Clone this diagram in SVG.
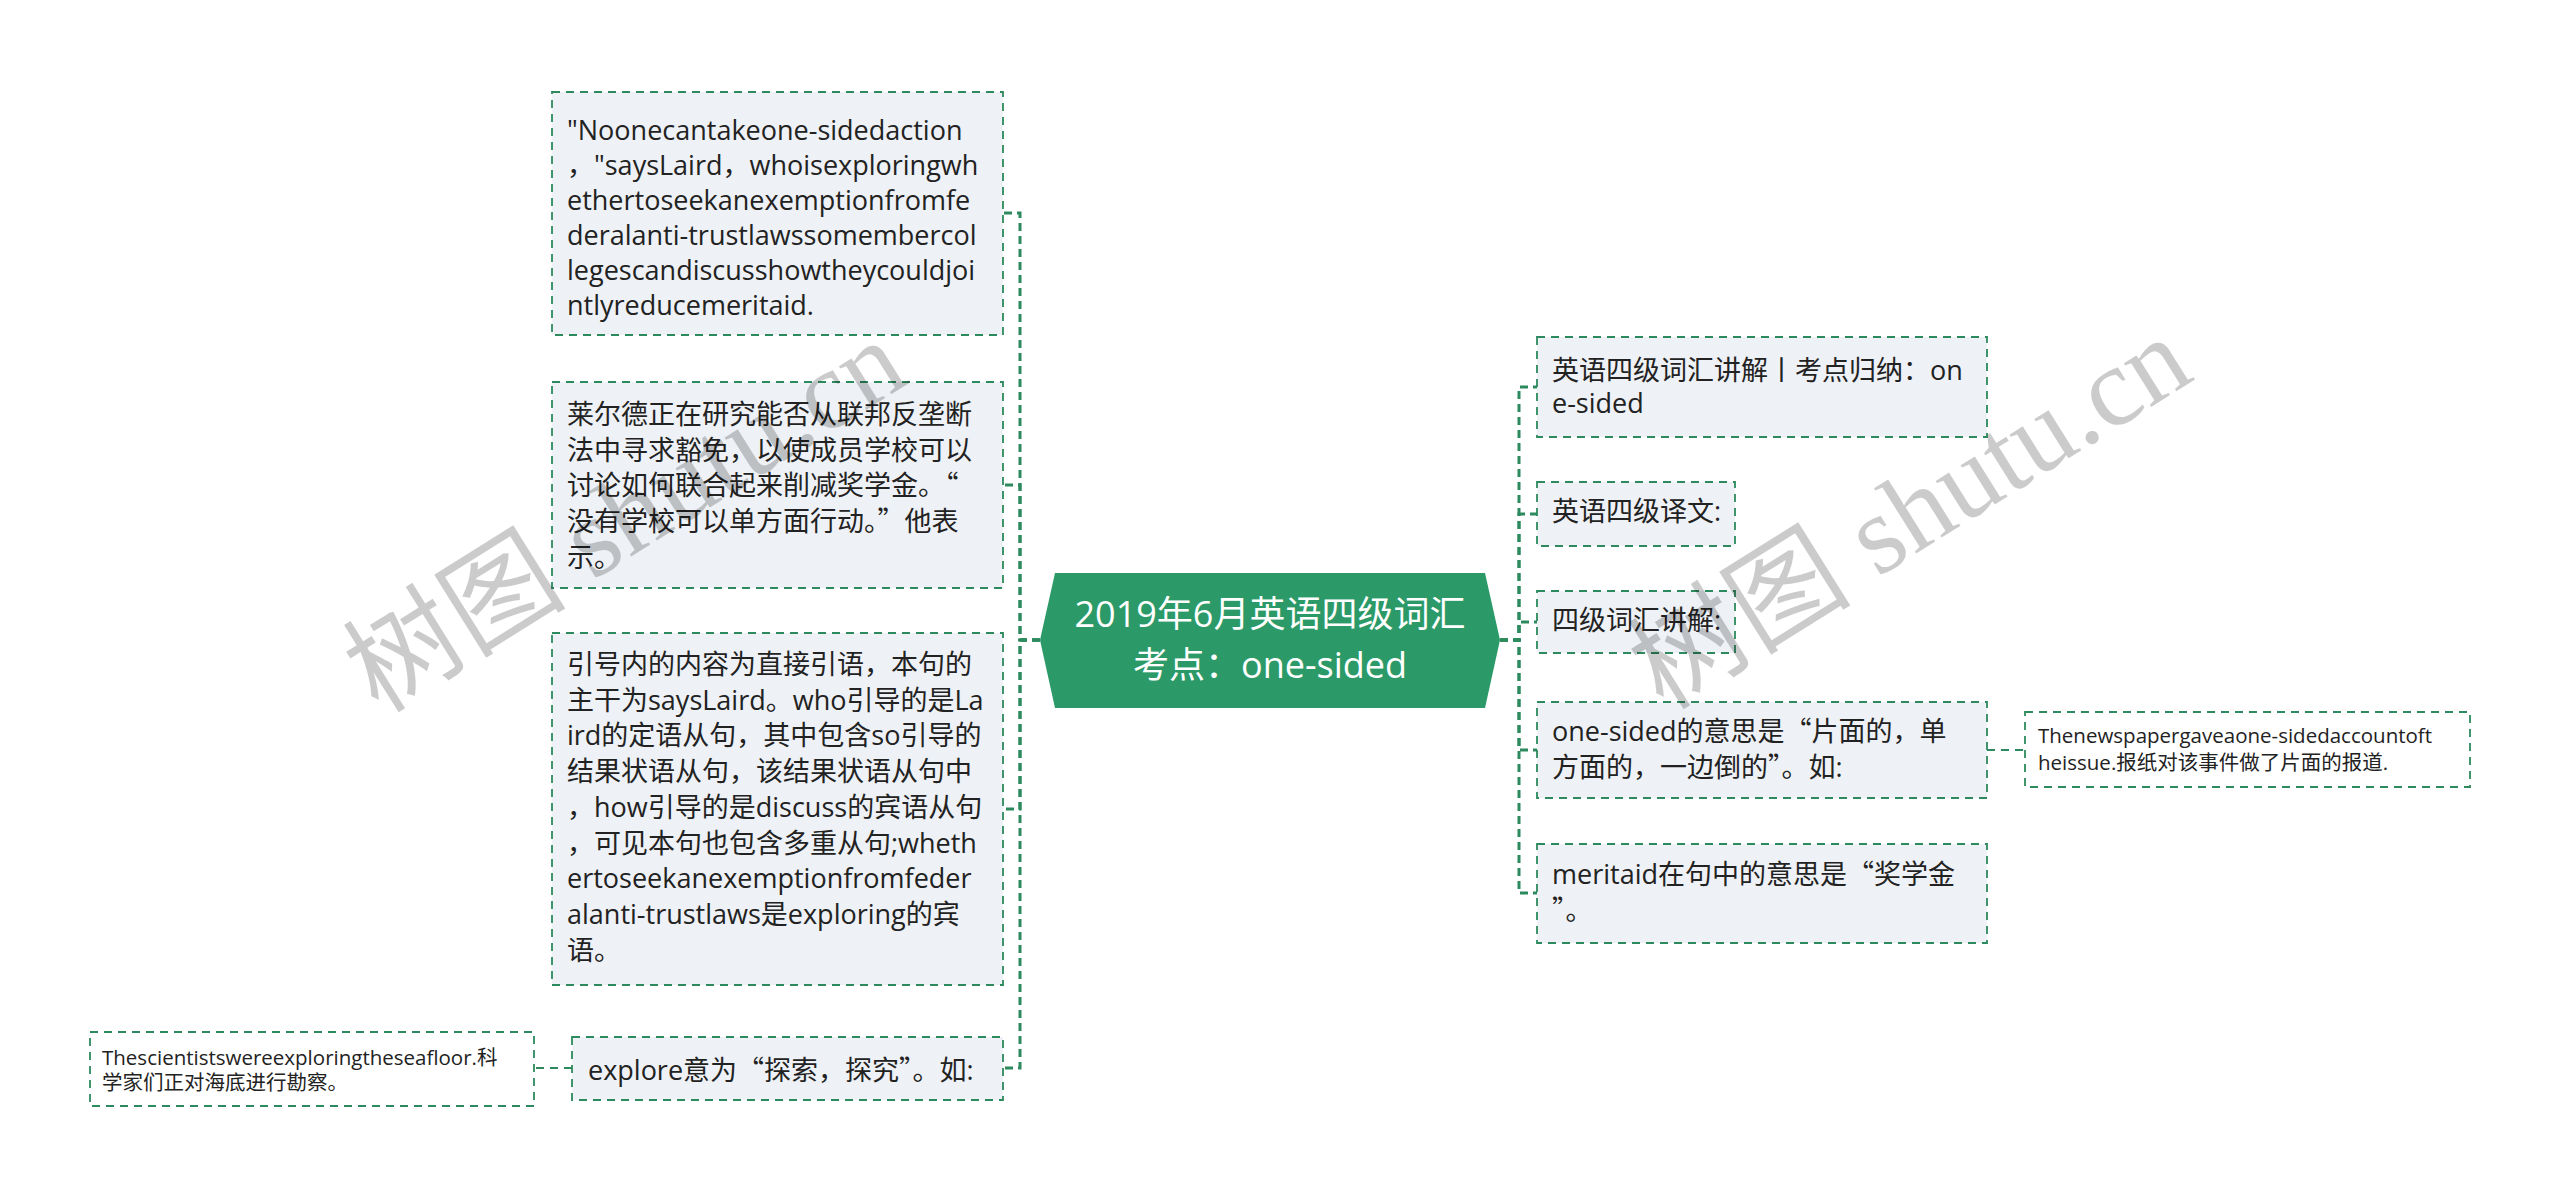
<svg xmlns="http://www.w3.org/2000/svg" width="2560" height="1197" viewBox="0 0 2560 1197">
<style>
.bg{fill:#ffffff}
.box{fill:#eef1f5;stroke:#2d8a5e;stroke-width:1.8;stroke-dasharray:8 6}
.leaf{fill:#ffffff;stroke:#2d8a5e;stroke-width:1.8;stroke-dasharray:8 6}
.t{font-family:"Open Sans","Noto Sans CJK SC",sans-serif;font-size:27px;fill:#222}
.s{font-family:"Open Sans","Noto Sans CJK SC",sans-serif;font-size:20.5px;fill:#222}
.c{font-family:"Open Sans","Noto Sans CJK SC",sans-serif;font-size:36px;fill:#ffffff;text-anchor:middle}
.q{font-family:"Noto Sans CJK SC",sans-serif}
.trunk{fill:none;stroke:#2d8a5e;stroke-width:3;stroke-dasharray:8 5}
.thin{fill:none;stroke:#2d8a5e;stroke-width:2;stroke-dasharray:8 6}
.wm{font-family:"Liberation Serif","Noto Sans CJK SC",serif;font-size:112px;fill:#000;opacity:0.2;text-anchor:middle}
</style>
<rect class="bg" x="0" y="0" width="2560" height="1197"/>
<g id="connectors">
<path class="trunk" d="M1040,640 H1020 V213 H1003"/>
<path class="trunk" d="M1040,640 H1020 V485 H1003"/>
<path class="trunk" d="M1040,640 H1020 V809 H1003"/>
<path class="trunk" d="M1040,640 H1020 V1068 H1003"/>
<path class="thin" d="M572,1068 H534"/>
<path class="trunk" d="M1500,640 H1519 V387 H1537"/>
<path class="trunk" d="M1500,640 H1519 V514 H1537"/>
<path class="trunk" d="M1500,640 H1519 V622 H1537"/>
<path class="trunk" d="M1500,640 H1519 V750 H1537"/>
<path class="trunk" d="M1500,640 H1519 V893 H1537"/>
<path class="thin" d="M1987,750 H2025"/>
</g>
<g id="center">
<polygon points="1040,640 1055,573 1485,573 1500,640 1485,708 1055,708" fill="#2b9a68"/>
<text class="c" x="1270" y="627">2019年6月英语四级词汇</text>
<text class="c" x="1270" y="678">考点：one-sided</text>
</g>
<g id="n1">
<rect class="box" x="552" y="92" width="451" height="243"/>
<text class="t"><tspan x="567" y="140">"Noonecantakeone-sidedaction</tspan><tspan x="567" y="175">，"saysLaird，whoisexploringwh</tspan><tspan x="567" y="210">ethertoseekanexemptionfromfe</tspan><tspan x="567" y="245">deralanti-trustlawssomembercol</tspan><tspan x="567" y="280">legescandiscusshowtheycouldjoi</tspan><tspan x="567" y="315">ntlyreducemeritaid.</tspan></text>
</g>
<g id="n2">
<rect class="box" x="552" y="382" width="451" height="206"/>
<text class="t"><tspan x="567" y="424">莱尔德正在研究能否从联邦反垄断</tspan><tspan x="567" y="460">法中寻求豁免，以使成员学校可以</tspan><tspan x="567" y="495">讨论如何联合起来削减奖学金。<tspan class="q">“</tspan></tspan><tspan x="567" y="531">没有学校可以单方面行动。<tspan class="q">”</tspan>他表</tspan><tspan x="567" y="567">示。</tspan></text>
</g>
<g id="n3">
<rect class="box" x="552" y="633" width="451" height="352"/>
<text class="t"><tspan x="567" y="674">引号内的内容为直接引语，本句的</tspan><tspan x="567" y="710">主干为saysLaird。who引导的是La</tspan><tspan x="567" y="745">ird的定语从句，其中包含so引导的</tspan><tspan x="567" y="781">结果状语从句，该结果状语从句中</tspan><tspan x="567" y="817">，how引导的是discuss的宾语从句</tspan><tspan x="567" y="853">，可见本句也包含多重从句;wheth</tspan><tspan x="567" y="888">ertoseekanexemptionfromfeder</tspan><tspan x="567" y="924">alanti-trustlaws是exploring的宾</tspan><tspan x="567" y="960">语。</tspan></text>
</g>
<g id="n4">
<rect class="box" x="572" y="1037" width="431" height="63"/>
<text class="t" x="588" y="1080">explore意为<tspan class="q">“</tspan>探索，探究<tspan class="q">”</tspan>。如:</text>
</g>
<g id="n5">
<rect class="leaf" x="90" y="1032" width="444" height="74"/>
<text class="s"><tspan x="102" y="1065">Thescientistswereexploringtheseafloor.科</tspan><tspan x="102" y="1090">学家们正对海底进行勘察。</tspan></text>
</g>
<g id="r1">
<rect class="box" x="1537" y="337" width="450" height="100"/>
<text class="t"><tspan x="1552" y="380">英语四级词汇讲解丨考点归纳：on</tspan><tspan x="1552" y="413">e-sided</tspan></text>
</g>
<g id="r2">
<rect class="box" x="1537" y="482" width="198" height="64"/>
<text class="t" x="1552" y="521">英语四级译文:</text>
</g>
<g id="r3">
<rect class="box" x="1537" y="591" width="198" height="62"/>
<text class="t" x="1552" y="630">四级词汇讲解:</text>
</g>
<g id="r4">
<rect class="box" x="1537" y="702" width="450" height="96"/>
<text class="t"><tspan x="1552" y="741">one-sided的意思是<tspan class="q">“</tspan>片面的，单</tspan><tspan x="1552" y="777">方面的，一边倒的<tspan class="q">”</tspan>。如:</tspan></text>
</g>
<g id="r5">
<rect class="box" x="1537" y="844" width="450" height="99"/>
<text class="t"><tspan x="1552" y="884">meritaid在句中的意思是<tspan class="q">“</tspan>奖学金</tspan><tspan x="1552" y="920"><tspan class="q">”</tspan>。</tspan></text>
</g>
<g id="r6">
<rect class="leaf" x="2025" y="712" width="445" height="75"/>
<text class="s"><tspan x="2038" y="743">Thenewspapergaveaone-sidedaccountoft</tspan><tspan x="2038" y="770">heissue.报纸对该事件做了片面的报道.</tspan></text>
</g>
<g id="watermarks">
<text class="wm" transform="translate(645,548) rotate(-32)">树图 shutu.cn</text>
<text class="wm" transform="translate(1930,545) rotate(-32)">树图 shutu.cn</text>
</g>
</svg>
